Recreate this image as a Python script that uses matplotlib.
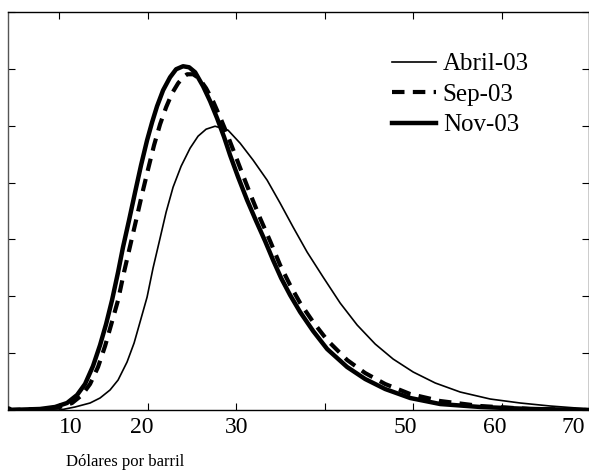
import matplotlib
matplotlib.use("Agg")
from matplotlib import pyplot as plt

plt.rcParams['font.family'] = ['Liberation Serif', 'DejaVu Serif']

# precio (dolares por barril) vs densidad (%)
abril_x = [2.60, 8.81, 10.60, 12.39, 13.58, 14.77, 15.73, 16.80, 17.64, 18.35, 19.19, 19.90, 20.74,
           21.46, 22.29, 23.25, 24.32, 25.27, 26.23, 27.30, 28.85, 30.29, 31.84, 33.51, 35.06, 36.61,
           38.28, 40.19, 42.22, 44.25, 46.40, 48.54, 50.93, 53.56, 56.54, 60.12, 63.70, 67.28, 71.93]
abril_y = [0, 0, 0.053, 0.123, 0.211, 0.352, 0.527, 0.844, 1.178, 1.547, 1.986, 2.496, 3.023,
           3.480, 3.919, 4.288, 4.605, 4.816, 4.939, 4.991, 4.921, 4.692, 4.394, 4.042, 3.638, 3.216,
           2.777, 2.337, 1.881, 1.494, 1.160, 0.896, 0.668, 0.475, 0.316, 0.193, 0.123, 0.070, 0.018]

sep_x = [2.60, 7.02, 8.81, 10.24, 11.43, 12.39, 13.34, 14.18, 14.89, 15.73, 16.44, 17.16, 17.88,
         18.59, 19.31, 20.02, 20.74, 21.46, 22.17, 22.89, 23.48, 23.96, 24.68, 25.39, 26.23, 27.06,
         27.90, 28.74, 29.57, 30.53, 31.60, 32.67, 33.87, 35.06, 36.25, 37.45, 39.00, 40.67, 43.05,
         45.20, 47.59, 50.57, 54.15, 58.93, 64.89, 71.93]
sep_y = [0, 0.018, 0.053, 0.123, 0.264, 0.457, 0.756, 1.125, 1.494, 1.933, 2.425, 2.882, 3.339,
         3.796, 4.236, 4.657, 5.026, 5.325, 5.571, 5.747, 5.852, 5.905, 5.905, 5.835, 5.659, 5.431,
         5.149, 4.851, 4.534, 4.165, 3.761, 3.374, 2.970, 2.548, 2.197, 1.881, 1.547, 1.230, 0.879,
         0.650, 0.457, 0.281, 0.158, 0.070, 0.018, 0]

nov_x = [2.60, 6.42, 8.21, 9.64, 10.84, 11.79, 12.74, 13.58, 14.30, 15.01, 15.73, 16.32, 17.04,
         17.76, 18.47, 19.19, 19.79, 20.38, 21.10, 21.93, 22.65, 23.48, 24.20, 24.92, 25.87, 26.71,
         27.54, 28.38, 29.09, 30.05, 31.12, 32.20, 33.27, 34.22, 35.18, 36.25, 37.45, 39.00, 40.67,
         43.05, 45.20, 47.59, 50.57, 54.15, 58.93, 64.89, 71.93]
nov_y = [0, 0.018, 0.053, 0.123, 0.264, 0.457, 0.773, 1.142, 1.511, 1.933, 2.425, 2.865, 3.339,
         3.831, 4.306, 4.745, 5.062, 5.343, 5.624, 5.852, 5.993, 6.046, 6.028, 5.940, 5.694, 5.431,
         5.132, 4.798, 4.482, 4.095, 3.691, 3.322, 2.970, 2.636, 2.320, 2.021, 1.722, 1.388, 1.072,
         0.756, 0.545, 0.369, 0.211, 0.105, 0.053, 0.018, 0]

xticklabels = ['10', '20', '30', '50', '60', '70']
# the original chart places its labels a bit off the tick marks
xlabel_pos = [10.1, 18.6, 29.9, 50.0, 60.6, 70.0]
xtick_marks = [8.7, 19.3, 29.8, 40.4, 50.9, 61.5]

fig = plt.figure(figsize=(5.89, 4.76), dpi=100)
ax = fig.add_axes([8/589., 1 - 410/476., 581/589., 398/476.])

ax.plot(abril_x, abril_y, color='k', lw=1.2, label='Abril-03', zorder=3)
ax.plot(sep_x, sep_y, color='k', lw=3.0, dashes=(3, 2), label='Sep-03', zorder=4)
ax.plot(nov_x, nov_y, color='k', lw=3.2, label='Nov-03', zorder=5,
        marker='o', markersize=5, markevery=[0])

ax.set_xlim(2.6, 71.9)
ax.set_ylim(0, 7)
ax.set_xticks(xlabel_pos)
ax.set_xticklabels(xticklabels)
ax.set_xticks(xtick_marks, minor=True)
ax.set_yticks(range(0, 8))
ax.set_yticklabels([])
ax.tick_params(axis='both', which='both', direction='in', length=5, width=0.8,
               top=True, right=True, labelsize=17, pad=3)
ax.tick_params(axis='x', which='major', length=0, pad=5)
for s in ax.spines.values():
    s.set_linewidth(1.0)
ax.spines['left'].set_color('#555555')

leg = ax.legend(loc='upper left', bbox_to_anchor=(0.661, 0.897), frameon=False,
                fontsize=18, handlelength=1.75, handletextpad=0.28, labelspacing=0.32,
                borderpad=0, borderaxespad=0)
for l in leg.get_lines():
    l.set_marker('')

fig.text(125/589., 1 - 462/476., 'Dólares por barril', ha='center', va='center', fontsize=12)

fig.savefig('out.png', dpi=100)
